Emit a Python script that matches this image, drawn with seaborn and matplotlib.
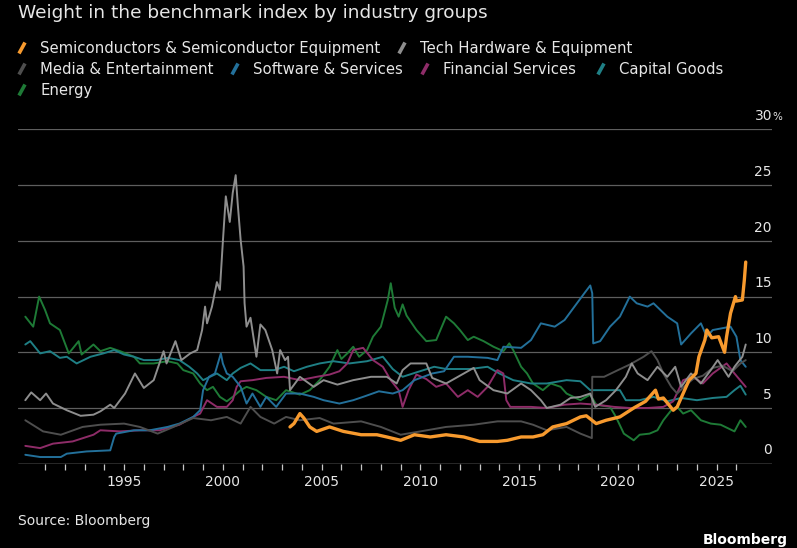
import matplotlib
matplotlib.use("Agg")
import matplotlib.pyplot as plt
import matplotlib.transforms as mtransforms
from matplotlib.lines import Line2D
import seaborn as sns
import pandas as pd

# --- data (index weight, %) ---
semis_years = [2003.4, 2003.6, 2003.9, 2004.1, 2004.4, 2004.75, 2005.4, 2006.1, 2007.0, 2007.8,
               2008.3, 2009.0, 2009.7, 2010.5, 2011.3, 2012.2, 2013.0, 2013.9, 2014.4, 2015.1,
               2015.7, 2016.2, 2016.7, 2017.4, 2018.1, 2018.4, 2018.9, 2019.4, 2020.1, 2020.8,
               2021.4, 2021.9, 2022.05, 2022.3, 2022.8, 2023.0, 2023.3, 2023.6, 2023.95, 2024.1,
               2024.4, 2024.5, 2024.75, 2025.1, 2025.4, 2025.5, 2025.7, 2025.95, 2026.0, 2026.3,
               2026.4, 2026.47]
semis_vals = [3.3, 3.6, 4.5, 4.1, 3.3, 2.9, 3.3, 2.9, 2.6, 2.6,
              2.4, 2.1, 2.6, 2.4, 2.6, 2.4, 2.0, 2.0, 2.1, 2.4,
              2.4, 2.6, 3.3, 3.6, 4.2, 4.3, 3.6, 3.9, 4.2, 5.0,
              5.6, 6.6, 5.8, 5.9, 4.8, 5.1, 6.3, 7.5, 8.1, 9.6,
              11.1, 12.0, 11.3, 11.4, 10.0, 11.4, 13.5, 15.0, 14.6, 14.7,
              16.5, 18.1]

tech_years = [1990.0, 1990.3, 1990.75, 1991.05, 1991.4, 1992.1, 1992.8, 1993.45, 1993.8, 1994.3,
              1994.5, 1995.05, 1995.55, 1996.0, 1996.5, 1997.0, 1997.15, 1997.6, 1997.9, 1998.35,
              1998.7, 1998.95, 1999.1, 1999.2, 1999.45, 1999.7, 1999.85, 2000.0, 2000.15, 2000.35,
              2000.5, 2000.65, 2000.75, 2000.9, 2001.05, 2001.1, 2001.2, 2001.4, 2001.7, 2001.9,
              2002.15, 2002.5, 2002.75, 2002.9, 2003.15, 2003.3, 2003.4, 2003.9, 2004.6, 2005.1,
              2005.8, 2006.6, 2007.5, 2008.3, 2008.8, 2009.1, 2009.5, 2010.3, 2010.6, 2011.3,
              2012.2, 2012.7, 2013.0, 2013.7, 2014.4, 2015.1, 2015.6, 2016.1, 2016.4, 2017.1,
              2017.6, 2018.1, 2018.6, 2018.85, 2019.4, 2019.9, 2020.4, 2020.7, 2021.0, 2021.5,
              2022.0, 2022.5, 2022.9, 2023.2, 2023.7, 2024.2, 2024.7, 2025.05, 2025.6, 2025.9,
              2026.3, 2026.47]
tech_vals = [5.7, 6.4, 5.7, 6.3, 5.4, 4.8, 4.3, 4.4, 4.7, 5.3,
             5.0, 6.3, 8.1, 6.8, 7.5, 10.1, 9.0, 11.0, 9.3, 9.9,
             10.2, 12.0, 14.1, 12.6, 14.1, 16.3, 15.6, 19.9, 24.0, 21.7,
             24.3, 25.9, 23.4, 20.1, 17.7, 14.4, 12.3, 13.1, 9.6, 12.5,
             12.0, 10.2, 8.1, 10.2, 9.3, 9.6, 6.6, 7.8, 6.9, 7.5,
             7.1, 7.5, 7.8, 7.8, 7.2, 8.4, 9.0, 9.0, 7.7, 7.2,
             8.1, 8.6, 7.5, 6.6, 6.3, 7.2, 6.6, 5.7, 5.0, 5.3,
             5.9, 6.0, 6.3, 5.1, 5.7, 6.6, 7.8, 9.0, 8.1, 7.5,
             8.7, 7.8, 8.7, 6.9, 8.1, 7.2, 8.4, 9.3, 7.8, 8.7,
             9.6, 10.7]

media_years = [1990.0, 1990.9, 1991.8, 1992.9, 1993.8, 1995.0, 1995.8, 1996.7, 1997.5, 1998.5,
               1999.4, 2000.2, 2000.9, 2001.2, 2001.4, 2001.9, 2002.6, 2003.2, 2003.9, 2004.9,
               2005.6, 2007.0, 2008.0, 2009.0, 2010.0, 2011.3, 2012.7, 2013.9, 2015.1, 2015.7,
               2016.4, 2017.4, 2018.1, 2018.68, 2018.7, 2019.3, 2020.0, 2020.6, 2021.3, 2021.7,
               2022.0, 2022.3, 2022.7, 2023.0, 2023.4, 2023.8, 2024.3, 2024.8, 2025.3, 2025.8,
               2026.2, 2026.47]
media_vals = [3.9, 2.9, 2.6, 3.3, 3.5, 3.6, 3.3, 2.7, 3.3, 4.1,
              3.9, 4.2, 3.6, 4.5, 5.1, 4.2, 3.6, 4.2, 3.9, 4.1,
              3.6, 3.8, 3.3, 2.6, 2.9, 3.3, 3.5, 3.8, 3.8, 3.5,
              3.0, 3.3, 2.7, 2.3, 7.8, 7.8, 8.4, 8.9, 9.6, 10.1,
              9.3, 8.1, 6.9, 6.3, 7.0, 7.6, 7.9, 8.6, 8.8, 8.3,
              9.0, 9.3]

software_years = [1990.0, 1990.75, 1991.8, 1992.1, 1993.1, 1994.3, 1994.5, 1994.6, 1995.5, 1996.3,
                  1997.2, 1997.8, 1998.5, 1998.85, 1999.0, 1999.3, 1999.6, 1999.9, 2000.0, 2000.2,
                  2000.5, 2000.9, 2001.2, 2001.5, 2001.9, 2002.2, 2002.7, 2003.2, 2003.9, 2004.6,
                  2005.1, 2005.9, 2006.6, 2007.1, 2007.9, 2008.6, 2009.1, 2009.7, 2010.6, 2011.2,
                  2011.7, 2012.4, 2013.4, 2013.9, 2014.2, 2015.1, 2015.6, 2016.1, 2016.8, 2017.3,
                  2017.8, 2018.3, 2018.6, 2018.7, 2018.75, 2019.1, 2019.6, 2020.1, 2020.6, 2020.95,
                  2021.5, 2021.8, 2022.5, 2023.0, 2023.2, 2023.7, 2024.2, 2024.5, 2024.8, 2025.7,
                  2026.0, 2026.2, 2026.47]
software_vals = [0.8, 0.6, 0.6, 0.9, 1.1, 1.2, 2.4, 2.7, 3.0, 3.0,
                 3.3, 3.6, 4.2, 4.8, 6.6, 7.8, 8.1, 9.9, 9.0, 8.1,
                 7.8, 6.9, 5.4, 6.3, 5.1, 6.0, 5.1, 6.3, 6.3, 6.0,
                 5.7, 5.4, 5.7, 6.0, 6.5, 6.3, 6.6, 7.5, 8.1, 8.3,
                 9.6, 9.6, 9.5, 9.3, 10.5, 10.4, 11.1, 12.6, 12.3, 12.9,
                 14.1, 15.3, 16.0, 15.3, 10.8, 11.0, 12.3, 13.2, 15.0, 14.4,
                 14.1, 14.4, 13.2, 12.6, 10.7, 11.7, 12.6, 11.4, 12.0, 12.3,
                 11.4, 9.3, 8.7]

financial_years = [1990.0, 1990.75, 1991.4, 1992.4, 1993.45, 1993.8, 1994.8, 1995.8, 1996.8, 1997.8,
                   1998.5, 1998.85, 1999.2, 1999.7, 2000.2, 2000.5, 2000.7, 2000.9, 2001.5, 2002.2,
                   2003.1, 2003.9, 2004.75, 2005.4, 2005.9, 2006.3, 2006.6, 2007.1, 2007.6, 2008.1,
                   2008.5, 2008.9, 2009.1, 2009.4, 2009.8, 2010.3, 2010.8, 2011.3, 2011.9, 2012.4,
                   2012.9, 2013.4, 2013.9, 2014.2, 2014.35, 2014.55, 2015.6, 2016.4, 2017.3, 2018.1,
                   2018.9, 2019.8, 2020.6, 2021.5, 2022.3, 2022.8, 2023.3, 2023.8, 2024.3, 2024.8,
                   2025.5, 2025.9, 2026.47]
financial_vals = [1.6, 1.4, 1.8, 2.0, 2.6, 3.0, 2.9, 3.0, 3.0, 3.5,
                  4.2, 4.5, 5.7, 5.1, 5.1, 5.7, 6.9, 7.4, 7.5, 7.7,
                  7.8, 7.5, 7.8, 8.0, 8.3, 9.0, 10.2, 10.4, 9.3, 8.7,
                  7.5, 6.6, 5.1, 6.6, 8.0, 7.6, 6.9, 7.2, 6.0, 6.6,
                  6.0, 6.9, 8.4, 8.1, 5.7, 5.1, 5.1, 5.0, 5.3, 5.4,
                  5.3, 5.1, 5.0, 5.0, 5.1, 5.6, 7.5, 7.8, 7.2, 8.1,
                  9.0, 8.1, 6.9]

capital_years = [1990.0, 1990.25, 1990.75, 1991.25, 1991.75, 1992.1, 1992.6, 1993.3, 1993.95, 1994.5,
                 1995.0, 1995.5, 1996.0, 1996.65, 1997.2, 1997.8, 1998.3, 1998.7, 1999.0, 1999.35,
                 1999.7, 2000.2, 2000.5, 2000.9, 2001.4, 2001.9, 2002.6, 2003.1, 2003.6, 2004.25,
                 2004.9, 2005.6, 2006.4, 2007.3, 2008.1, 2008.6, 2009.1, 2009.8, 2010.7, 2011.3,
                 2012.5, 2013.4, 2014.0, 2014.7, 2015.6, 2016.4, 2017.4, 2018.1, 2018.6, 2019.4,
                 2020.1, 2020.4, 2021.1, 2021.8, 2022.5, 2023.2, 2024.0, 2024.8, 2025.5, 2025.9,
                 2026.2, 2026.47]
capital_vals = [10.7, 11.0, 9.9, 10.1, 9.5, 9.6, 9.0, 9.6, 9.9, 10.2,
                9.8, 9.6, 9.3, 9.3, 9.5, 9.3, 8.7, 8.1, 7.5, 7.8,
                8.1, 7.5, 8.1, 8.6, 9.0, 8.4, 8.4, 8.7, 8.3, 8.7,
                9.0, 9.2, 9.0, 9.2, 9.6, 8.5, 7.8, 8.2, 8.7, 8.5,
                8.5, 8.7, 8.1, 7.5, 7.2, 7.2, 7.5, 7.4, 6.6, 6.6,
                6.6, 5.7, 5.7, 6.0, 5.6, 5.9, 5.7, 5.9, 6.0, 6.6,
                7.0, 6.2]

energy_years = [1990.0, 1990.4, 1990.7, 1991.0, 1991.25, 1991.75, 1992.2, 1992.7, 1992.85, 1993.45,
                1993.8, 1994.3, 1994.8, 1995.5, 1995.8, 1996.5, 1997.2, 1997.7, 1998.0, 1998.5,
                1998.85, 1999.2, 1999.5, 1999.85, 2000.2, 2000.5, 2000.9, 2001.2, 2001.7, 2002.2,
                2002.7, 2003.2, 2003.9, 2004.4, 2004.9, 2005.4, 2005.8, 2006.0, 2006.3, 2006.6,
                2006.9, 2007.3, 2007.6, 2008.0, 2008.35, 2008.5, 2008.7, 2008.9, 2009.1, 2009.3,
                2009.8, 2010.3, 2010.8, 2011.3, 2011.7, 2012.0, 2012.4, 2012.7, 2013.2, 2013.7,
                2014.2, 2014.5, 2014.7, 2015.1, 2015.4, 2015.7, 2016.2, 2016.6, 2017.1, 2017.4,
                2018.1, 2018.6, 2018.9, 2019.6, 2019.9, 2020.3, 2020.8, 2021.1, 2021.6, 2022.0,
                2022.3, 2022.7, 2023.0, 2023.3, 2023.7, 2024.2, 2024.7, 2025.2, 2025.9, 2026.2,
                2026.47]
energy_vals = [13.2, 12.3, 15.0, 13.8, 12.6, 12.0, 9.9, 11.0, 9.8, 10.7,
               10.1, 10.4, 10.1, 9.6, 9.0, 9.0, 9.2, 9.0, 8.4, 8.1,
               7.2, 6.6, 6.9, 6.0, 5.6, 6.0, 6.6, 6.9, 6.6, 6.0,
               5.7, 6.6, 6.2, 6.6, 7.5, 8.7, 10.2, 9.4, 9.9, 10.5,
               9.6, 10.2, 11.4, 12.3, 14.7, 16.2, 14.0, 13.2, 14.3, 13.3,
               12.0, 11.0, 11.1, 13.2, 12.6, 12.0, 11.1, 11.4, 11.0, 10.5,
               10.1, 10.8, 10.2, 8.7, 8.1, 7.2, 6.6, 7.2, 6.9, 6.3,
               5.7, 6.2, 5.3, 5.1, 4.2, 2.7, 2.1, 2.6, 2.7, 3.0,
               3.9, 4.8, 5.1, 4.5, 4.8, 3.9, 3.6, 3.5, 2.9, 3.9,
               3.3]

groups = ["Semiconductors & Semiconductor Equipment", "Tech Hardware & Equipment",
          "Media & Entertainment", "Software & Services", "Financial Services",
          "Capital Goods", "Energy"]
colors = ["#f79a2e", "#8e8e8e", "#4e4e4e", "#23709a", "#8e2c68", "#1f7f85", "#1e7a36"]
series = [(semis_years, semis_vals), (tech_years, tech_vals), (media_years, media_vals),
          (software_years, software_vals), (financial_years, financial_vals),
          (capital_years, capital_vals), (energy_years, energy_vals)]

df = pd.concat([pd.DataFrame({"year": yrs, "weight": vals, "group": g})
                for g, (yrs, vals) in zip(groups, series)], ignore_index=True)

sns.set_theme(style="dark")
plt.rcParams["font.family"] = ["DejaVu Sans"]
BG = "#000000"
FG = "#e6e6e6"

W, H = 797, 548
fig = plt.figure(figsize=(W / 100, H / 100), dpi=100, facecolor=BG)
# plot area: x 18..772 px, y 129.5..463.7 px
ax = fig.add_axes([18 / W, (H - 463.7) / H, (772 - 18) / W, (463.7 - 129.5) / H])
ax.set_facecolor(BG)

# draw others first, semis on top
for g, c in list(zip(groups, colors))[::-1]:
    lw = 2.4 if g.startswith("Semi") else 1.4
    sns.lineplot(data=df[df.group == g], x="year", y="weight", color=c, lw=lw,
                 estimator=None, ax=ax, legend=False, zorder=5 if lw > 2 else 3)

ax.set_xlim(1989.63, 2027.8)
ax.set_ylim(0, 30)
for s in ax.spines.values():
    s.set_visible(False)
ax.grid(False)

for v in range(5, 31, 5):
    ax.axhline(v, color="#5e5e5e", lw=0.9, zorder=1)
ax.axhline(0, color="#c8c8c8", lw=1.0, zorder=2)

# y labels sit above the gridlines at the right edge
trans = mtransforms.blended_transform_factory(ax.transAxes, ax.transData)
for v in range(0, 31, 5):
    ax.annotate(str(v), xy=(1.0, v), xycoords=trans, xytext=(0, 4.5),
                textcoords="offset points", ha="right", va="bottom",
                fontsize=10, color=FG)
ax.annotate("%", xy=(1.0, 30), xycoords=trans, xytext=(0.5, 5.5),
            textcoords="offset points", ha="left", va="bottom",
            fontsize=7.5, color=FG)
ax.set_yticks([])
ax.set_ylabel("")

ax.set_xticks(range(1991, 2027))
ax.set_xticklabels([str(y) if y % 5 == 0 else "" for y in range(1991, 2027)])
ax.tick_params(axis="x", direction="out", length=4, width=0.9, color="#c8c8c8",
               labelcolor=FG, labelsize=10, pad=4, bottom=True)
ax.set_xlabel("")

# title
fig.text(17.5 / W, 1 - 18.5 / H, "Weight in the benchmark index by industry groups",
         fontsize=13.3, color=FG, ha="left", va="baseline")

# legend, laid out as in the original
legend_pos = [(22, 53), (402, 53), (22, 74), (235, 74), (425, 74), (601, 74), (22, 95)]
for (px, py), g, c in zip(legend_pos, groups, colors):
    fig.add_artist(Line2D([(px - 3) / W, (px + 3) / W], [1 - (py + 0.5) / H, 1 - (py - 10.5) / H],
                          color=c, lw=2.6, transform=fig.transFigure, solid_capstyle="butt"))
    fig.text((px + 18) / W, 1 - py / H, g, fontsize=10.7, color=FG,
             ha="left", va="baseline")

fig.text(18 / W, 1 - 525 / H, "Source: Bloomberg", fontsize=10, color=FG,
         ha="left", va="baseline")
fig.text(788 / W, 1 - 544 / H, "Bloomberg", fontsize=10, color="#ffffff",
         fontweight="bold", ha="right", va="baseline")

fig.savefig("out.png", dpi=100, facecolor=BG)
